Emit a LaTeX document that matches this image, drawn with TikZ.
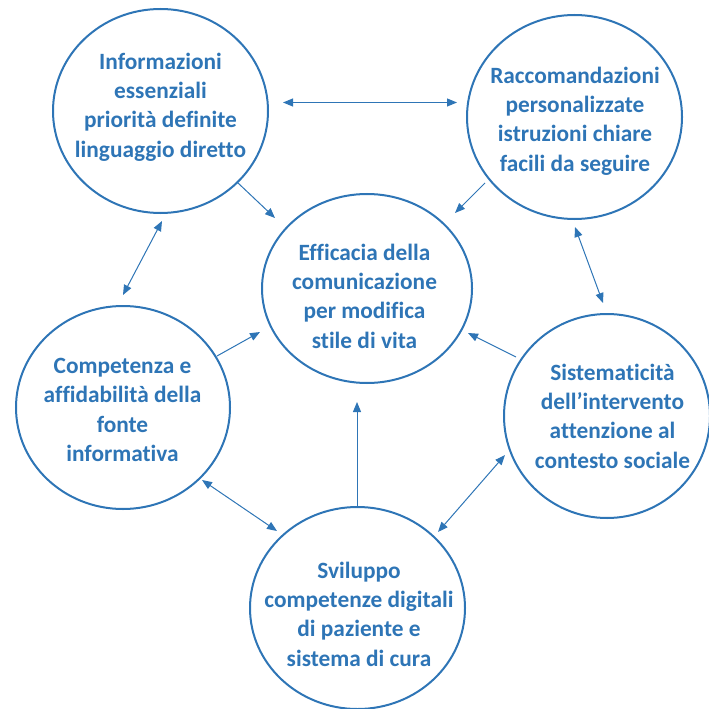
\documentclass[tikz,border=0pt]{standalone}
\usepackage{fontspec}
\setmainfont{Carlito}[Ligatures=NoCommon]
\usetikzlibrary{arrows.meta,shapes.geometric}
\definecolor{accent}{HTML}{2E75B6}
\begin{document}
\begin{tikzpicture}[x=0.75pt,y=-0.75pt,
  bubble/.style={ellipse, draw=accent, line width=1.5pt, inner sep=0pt},
  txt/.style={text=accent, align=center, inner sep=0pt,
    font=\bfseries\fontsize{17.5}{22}\selectfont},
  link/.style={draw=accent, line width=0.75pt,
    arrows={-Triangle[length=7.5pt,width=6pt]}},
  dlink/.style={link, arrows={Triangle[length=7.5pt,width=6pt]-Triangle[length=7.5pt,width=6pt]}}]
\useasboundingbox (0,0) rectangle (709,709);

% bubbles
\node[bubble, minimum width=2*107.5*0.75pt, minimum height=2*102*0.75pt] (tl) at (160.5,111) {};
\node[bubble, minimum width=2*107.5*0.75pt, minimum height=2*102*0.75pt] (tr) at (574.5,117) {};
\node[bubble, minimum width=2*105*0.75pt, minimum height=2*94.5*0.75pt] (c) at (367,288.5) {};
\node[bubble, minimum width=2*107*0.75pt, minimum height=2*101.5*0.75pt] (l) at (123,407.5) {};
\node[bubble, minimum width=2*103*0.75pt, minimum height=2*102*0.75pt] (r) at (607,416) {};
\node[bubble, minimum width=2*107.5*0.75pt, minimum height=2*101*0.75pt] (b) at (357.5,608) {};

% labels
\node[txt] (tlt) at (160.5,107) {Informazioni\\essenziali\\priorità definite\\linguaggio diretto};
\node[txt] (trt) at (575,121) {Raccomandazioni\\personalizzate\\istruzioni chiare\\facili da seguire};
\node[txt] (ct) at (364.5,296) {Efficacia della\\comunicazione\\per modifica\\stile di vita};
\node[txt] (lt) at (122.5,410) {Competenza e\\affidabilità della\\fonte\\informativa};
\node[txt] (rt) at (612.5,416) {Sistematicità\\dell’intervento\\attenzione al\\contesto sociale};
\node[txt] (bt) at (359,614) {Sviluppo\\competenze digitali\\di paziente e\\sistema di cura};

% connector ends
\coordinate (tl-tr-a) at (283,102.5);
\coordinate (tl-tr-b) at (457,102.5);
\coordinate (tl-c-a) at (238,183);
\coordinate (tl-c-b) at (275,218);
\coordinate (tr-c-a) at (485,183);
\coordinate (tr-c-b) at (455,213);
\coordinate (tr-r-a) at (575,227);
\coordinate (tr-r-b) at (603,303);
\coordinate (tl-l-a) at (162,221);
\coordinate (tl-l-b) at (123,295);
\coordinate (l-c-a) at (217,356);
\coordinate (l-c-b) at (260,332);
\coordinate (r-c-a) at (516,357);
\coordinate (r-c-b) at (468,333);
\coordinate (b-c-a) at (357,507);
\coordinate (b-c-b) at (357,402);
\coordinate (l-b-a) at (202,480);
\coordinate (l-b-b) at (277,531);
\coordinate (b-r-a) at (438,532);
\coordinate (b-r-b) at (505,455);

% connectors
\draw[dlink] (tl-tr-a) -- (tl-tr-b);
\draw[link] (tl-c-a) -- (tl-c-b);
\draw[link] (tr-c-a) -- (tr-c-b);
\draw[dlink] (tr-r-a) -- (tr-r-b);
\draw[dlink] (tl-l-a) -- (tl-l-b);
\draw[link] (l-c-a) -- (l-c-b);
\draw[link] (r-c-a) -- (r-c-b);
\draw[link] (b-c-a) -- (b-c-b);
\draw[dlink] (l-b-a) -- (l-b-b);
\draw[dlink] (b-r-a) -- (b-r-b);
\end{tikzpicture}
\end{document}
